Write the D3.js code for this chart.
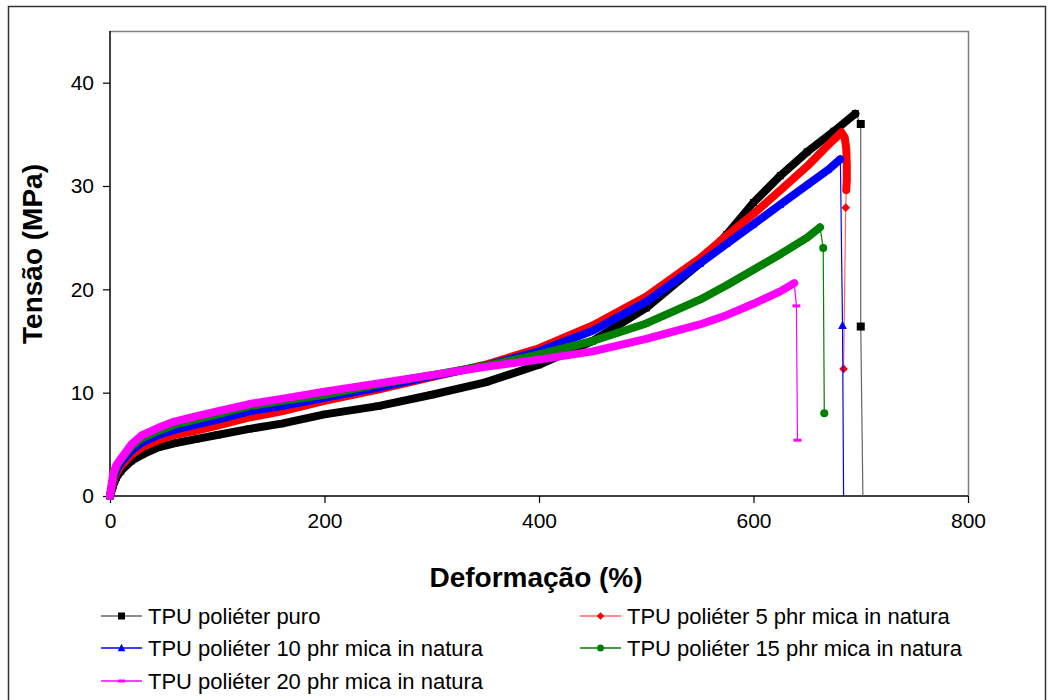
<!DOCTYPE html>
<html>
<head>
<meta charset="utf-8">
<script src="https://cdn.jsdelivr.net/npm/d3@7"></script>
<style>
  body { margin: 0; background: #fff; }
  svg { font-family: "Liberation Sans", Arial, sans-serif; }
</style>
</head>
<body>
<svg id="chart" width="1050" height="700"></svg>
<script>
const puroCurve = [[0,0],[3,1.0],[6,1.8],[10,2.4],[20,3.4],[30,4.0],[45,4.7],[60,5.1],[80,5.5],[100,5.9],[130,6.5],[160,7.0],[200,7.9],[250,8.7],[300,9.8],[350,11.0],[400,12.7],[450,15.0],[500,18.2],[550,22.5],[575,25.3],[600,28.4],[625,31.0],[650,33.3],[675,35.3],[695,37.0]];
const puroBreak = [[695,37.0],[700,36.0],[700,16.4],[702,0]];

const mica5Curve = [[0,0],[3,1.3],[6,2.2],[10,2.9],[20,4.0],[30,4.7],[45,5.4],[60,5.9],[80,6.3],[100,6.8],[130,7.6],[160,8.2],[200,9.2],[250,10.3],[300,11.5],[350,12.7],[400,14.3],[450,16.5],[500,19.3],[550,23.0],[575,25.2],[600,27.3],[625,29.6],[650,31.9],[670,34.0],[682,35.2],[685,34.7],[686.5,33.6],[687,32.0],[687,30.6],[686.5,29.6]];
const mica5Break = [[686.5,29.6],[686,27.9],[684,12.3]];

const mica10Curve = [[0,0],[3,1.6],[6,2.5],[10,3.2],[20,4.4],[30,5.2],[45,5.9],[60,6.4],[80,6.9],[100,7.4],[130,8.2],[160,8.7],[200,9.5],[250,10.5],[300,11.6],[350,12.6],[400,14.0],[450,16.0],[500,18.8],[550,22.5],[575,24.4],[600,26.3],[625,28.2],[650,30.1],[670,31.6],[681,32.6]];
const mica10Break = [[681,32.6],[683,16.5],[684,0]];

const mica15Curve = [[0,0],[3,1.8],[6,2.8],[10,3.5],[20,4.8],[30,5.6],[45,6.3],[60,6.9],[80,7.4],[100,7.9],[130,8.7],[160,9.2],[200,9.8],[250,10.8],[300,11.7],[350,12.6],[400,13.7],[450,15.0],[500,16.7],[550,19.0],[575,20.4],[600,21.9],[625,23.4],[650,25.0],[662,26.0]];
const mica15Break = [[662,26.0],[665,24.0],[666,8.0]];

const mica20Curve = [[0,0],[3,2.2],[6,3.0],[10,3.6],[20,5.0],[30,5.9],[45,6.6],[60,7.2],[80,7.7],[100,8.2],[130,8.9],[160,9.4],[200,10.1],[250,10.9],[300,11.7],[350,12.5],[400,13.2],[450,14.0],[500,15.2],[550,16.6],[575,17.5],[600,18.6],[625,19.8],[638,20.6]];
const mica20Break = [[638,20.6],[640,18.4],[641,5.4]];

const seriesNames = ["TPU poliéter puro", "TPU poliéter 5 phr mica in natura", "TPU poliéter 10 phr mica in natura", "TPU poliéter 15 phr mica in natura", "TPU poliéter 20 phr mica in natura"];
const seriesColors = ["#000000", "#ff0000", "#0000ff", "#008000", "#ff00ff"];
const lineColors = ["#666666", "#ff6666", "#0000ff", "#008000", "#ff00ff"];
const seriesMarkers = ["square", "diamond", "triangle", "circle", "dash"];

const xTicks = [0, 200, 400, 600, 800];
const yTicks = [0, 10, 20, 30, 40];

const curves = [puroCurve, mica5Curve, mica10Curve, mica15Curve, mica20Curve];
const breaks = [puroBreak, mica5Break, mica10Break, mica15Break, mica20Break];

const svg = d3.select("#chart");

// outer frame
svg.append("rect")
  .attr("x", 8.5).attr("y", 6.5)
  .attr("width", 1037).attr("height", 700)
  .attr("fill", "none").attr("stroke", "#333").attr("stroke-width", 1.5);

const plot = { left: 110, top: 31, right: 968, bottom: 496 };

const x = d3.scaleLinear().domain([0, 800]).range([plot.left, plot.right]);
const y = d3.scaleLinear().domain([0, 45]).range([plot.bottom, plot.top]);

// plot area border (top/right grey)
svg.append("path")
  .attr("d", `M${plot.left},${plot.top + 0.5}H${plot.right + 0.5}V${plot.bottom}`)
  .attr("fill", "none").attr("stroke", "#808080").attr("stroke-width", 1.5);

const xAxis = svg.append("g")
  .attr("transform", `translate(0,${plot.bottom})`)
  .call(d3.axisBottom(x).tickValues(xTicks).tickSize(7).tickPadding(10));
const yAxis = svg.append("g")
  .attr("transform", `translate(${plot.left},0)`)
  .call(d3.axisLeft(y).tickValues(yTicks).tickSize(7).tickPadding(9));

[xAxis, yAxis].forEach((g) => {
  g.select(".domain").attr("stroke", "#000").attr("stroke-width", 1.5);
  g.selectAll(".tick line").attr("stroke", "#000").attr("stroke-width", 1.2);
  g.selectAll(".tick text")
    .attr("font-family", "Liberation Sans, Arial, sans-serif")
    .attr("font-size", 21).attr("fill", "#000");
});
xAxis.select(".domain").attr("d", `M${plot.left},0H${plot.right}`);
yAxis.select(".domain").attr("d", `M0,${plot.bottom}V${plot.top}`);

// axis titles
svg.append("text")
  .attr("x", (plot.left + plot.right) / 2 - 3).attr("y", 587)
  .attr("text-anchor", "middle")
  .attr("font-size", 28).attr("font-weight", "bold")
  .text("Deformação (%)");

svg.append("text")
  .attr("transform", "translate(42,254) rotate(-90)")
  .attr("text-anchor", "middle")
  .attr("font-size", 28).attr("font-weight", "bold")
  .text("Tensão (MPa)");

function drawMarker(g, type, cx, cy, color, s) {
  if (type === "square") {
    g.append("rect").attr("x", cx - s / 2).attr("y", cy - s / 2)
      .attr("width", s).attr("height", s).attr("fill", color);
  } else if (type === "diamond") {
    g.append("rect").attr("x", -s / 2.6).attr("y", -s / 2.6)
      .attr("width", s / 1.3).attr("height", s / 1.3).attr("fill", color)
      .attr("transform", `translate(${cx},${cy}) rotate(45)`);
  } else if (type === "triangle") {
    g.append("path")
      .attr("d", `M${cx},${cy - s * 0.6}L${cx + s * 0.55},${cy + s * 0.45}L${cx - s * 0.55},${cy + s * 0.45}Z`)
      .attr("fill", color);
  } else if (type === "circle") {
    g.append("circle").attr("cx", cx).attr("cy", cy).attr("r", s / 2).attr("fill", color);
  } else {
    g.append("rect").attr("x", cx - s / 2).attr("y", cy - 1.5)
      .attr("width", s).attr("height", 3).attr("fill", color);
  }
}

const line = d3.line().x((d) => x(d[0])).y((d) => y(d[1]));

svg.append("clipPath").attr("id", "clip")
  .append("rect").attr("x", plot.left - 6).attr("y", plot.top)
  .attr("width", plot.right - plot.left + 6).attr("height", plot.bottom - plot.top + 6);

const dataLayer = svg.append("g").attr("clip-path", "url(#clip)");

curves.forEach((curve, i) => {
  const g = dataLayer.append("g");
  // fracture segment: thin line with sparse markers
  g.append("path").datum(breaks[i])
    .attr("d", line)
    .attr("fill", "none").attr("stroke", lineColors[i]).attr("stroke-width", 1.2);
  // dense-marker band
  g.append("path").datum(curve)
    .attr("d", line)
    .attr("fill", "none").attr("stroke", seriesColors[i])
    .attr("stroke-width", 8).attr("stroke-linejoin", "round").attr("stroke-linecap", "round");
  curve.forEach((d) => drawMarker(g, seriesMarkers[i], x(d[0]), y(d[1]), seriesColors[i], 7));
  breaks[i].slice(1).filter((d) => d[1] > 0)
    .forEach((d) => drawMarker(g, seriesMarkers[i], x(d[0]), y(d[1]), seriesColors[i], 8));
});

// legend
const legendRows = [
  { i: 0, lx: 101, ty: 616 }, { i: 1, lx: 580, ty: 616 },
  { i: 2, lx: 101, ty: 648 }, { i: 3, lx: 580, ty: 648 },
  { i: 4, lx: 101, ty: 681 }
];
legendRows.forEach((r) => {
  const g = svg.append("g");
  g.append("line")
    .attr("x1", r.lx).attr("x2", r.lx + 41)
    .attr("y1", r.ty).attr("y2", r.ty)
    .attr("stroke", lineColors[r.i]).attr("stroke-width", 1.5);
  drawMarker(g, seriesMarkers[r.i], r.lx + 20.5, r.ty, seriesColors[r.i], 7);
  g.append("text")
    .attr("x", r.lx + 47).attr("y", r.ty + 8)
    .attr("font-size", 22).attr("fill", "#000")
    .text(seriesNames[r.i]);
});
</script>
</body>
</html>
